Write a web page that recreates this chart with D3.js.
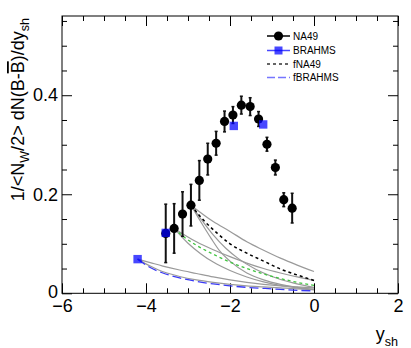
<!DOCTYPE html>
<html><head><meta charset="utf-8">
<script src="https://cdn.jsdelivr.net/npm/d3@7"></script>
<style>body{margin:0;background:#fff} svg{display:block;font-family:"Liberation Sans",Arial,sans-serif}</style>
</head><body><svg id="c" width="411" height="348"></svg>
<script>
// ---- data ----
const na49X   = [-3.53,-3.33,-3.13,-2.93,-2.73,-2.53,-2.33,-2.13,-1.93,-1.73,-1.52,-1.32,-1.12,-0.92,-0.72,-0.52];
const na49Y   = [0.121,0.131,0.160,0.178,0.228,0.271,0.303,0.347,0.360,0.380,0.377,0.352,0.301,0.254,0.189,0.172];
const na49Err = [0.059,0.050,0.045,0.042,0.040,0.032,0.024,0.021,0.017,0.018,0.018,0.015,0.014,0.015,0.014,0.030];
const brahmsX = [-4.20,-3.53,-1.91,-1.21];
const brahmsY = [0.069,0.122,0.338,0.341];

const fNA49      = [[-2.93,0.178],[-2.6,0.145],[-2.3,0.121],[-2.0,0.100],[-1.6,0.081],[-1.2,0.065],[-0.8,0.049],[-0.4,0.037],[0,0.026]];
const fNA49Hi    = [[-2.93,0.178],[-2.4,0.145],[-2.0,0.125],[-1.6,0.104],[-1.2,0.087],[-0.8,0.071],[-0.4,0.057],[0,0.044]];
const fNA49Lo1   = [[-2.93,0.178],[-2.7,0.145],[-2.45,0.111],[-2.24,0.085],[-2.0,0.065],[-1.6,0.041],[-1.2,0.027],[-0.8,0.018],[-0.4,0.012],[0,0.008]];
const fNA49Lo2   = [[-2.93,0.178],[-2.7,0.151],[-2.4,0.118],[-2.1,0.091],[-1.8,0.070],[-1.4,0.049],[-1.0,0.034],[-0.5,0.021],[0,0.012]];
const fNA49b     = [[-3.33,0.131],[-3.1,0.114],[-2.8,0.097],[-2.4,0.079],[-2.0,0.063],[-1.6,0.050],[-1.2,0.039],[-0.8,0.030],[-0.4,0.022],[0,0.016]];
const fNA49bHi   = [[-3.33,0.131],[-2.8,0.104],[-2.4,0.088],[-2.0,0.074],[-1.6,0.061],[-1.2,0.050],[-0.8,0.041],[-0.4,0.033],[0,0.026]];
const fNA49bLo   = [[-3.33,0.131],[-3.0,0.101],[-2.7,0.080],[-2.4,0.063],[-2.0,0.046],[-1.6,0.033],[-1.2,0.023],[-0.8,0.016],[-0.4,0.011],[0,0.007]];
const fBRAHMS    = [[-4.2,0.069],[-3.9,0.052],[-3.6,0.041],[-3.2,0.031],[-2.8,0.024],[-2.4,0.019],[-2.0,0.015],[-1.6,0.012],[-1.2,0.010],[-0.8,0.008],[-0.4,0.006],[0,0.005]];
const fBRAHMSHi  = [[-4.2,0.069],[-3.9,0.062],[-3.6,0.055],[-3.2,0.047],[-2.8,0.040],[-2.4,0.033],[-2.0,0.027],[-1.6,0.022],[-1.2,0.018],[-0.8,0.015],[-0.4,0.013],[0,0.011]];
const fBRAHMSLo  = [[-4.2,0.069],[-3.9,0.055],[-3.7,0.047],[-3.2,0.034],[-2.8,0.027],[-2.4,0.022],[-2.0,0.018],[-1.6,0.015],[-1.2,0.013],[-0.8,0.011],[-0.4,0.009],[0,0.008]];

const xMajor = [-6,-4,-2,0,2];
const xMinor = [-5.5,-5,-4.5,-3.5,-3,-2.5,-1.5,-1,-0.5,0.5,1,1.5];
const yMajor = [0,0.2,0.4];
const yMinor = [0.05,0.1,0.15,0.25,0.3,0.35,0.45,0.5,0.55];
const legendLabels = ["NA49","BRAHMS","fNA49","fBRAHMS"];

// ---- layout ----
const L=62, R=398, T=16, B=293.3;
const x = d3.scaleLinear().domain([-6,2]).range([L,R]);
const y = d3.scaleLinear().domain([0,0.56]).range([B,T]);
const svg = d3.select("#c");
const blue = "rgba(0,0,255,0.72)";

// axes
function ax(gen, tr, vals, size, fmt){
  const g = svg.append("g").attr("transform",tr)
    .call(gen.tickValues(vals).tickSize(size).tickSizeOuter(0).tickPadding(5).tickFormat(fmt));
  g.select(".domain").remove();
  g.selectAll("line").attr("stroke","#000").attr("stroke-width",1);
  g.selectAll("text").attr("font-size",18).attr("fill","#000").attr("font-family","Liberation Sans, Arial, sans-serif");
  return g;
}
const none = ()=>"";
const gx = ax(d3.axisBottom(x), `translate(0,${B})`, xMajor, -10, d=> d<0 ? "\u2212"+Math.abs(d) : d);
gx.selectAll("text").attr("dy","0.78em").attr("y",5);
ax(d3.axisBottom(x), `translate(0,${B})`, xMinor, -5, none);
ax(d3.axisTop(x), `translate(0,${T})`, xMajor, -10, none);
ax(d3.axisTop(x), `translate(0,${T})`, xMinor, -5, none);
const gy = ax(d3.axisLeft(y), `translate(${L},0)`, yMajor, -10, d=> d===0?"0":d.toFixed(1));
gy.selectAll("text").attr("x",-4).attr("y",d=> d===0 ? -1.5 : 0);
ax(d3.axisLeft(y), `translate(${L},0)`, yMinor, -5, none);
ax(d3.axisRight(y), `translate(${R},0)`, yMajor, -10, none);
ax(d3.axisRight(y), `translate(${R},0)`, yMinor, -5, none);
svg.append("rect").attr("x",L).attr("y",T).attr("width",R-L).attr("height",B-T)
  .attr("fill","none").attr("stroke","#000").attr("stroke-width",1);

// curves
const line = d3.line().x(d=>x(d[0])).y(d=>y(d[1])).curve(d3.curveMonotoneX);
const grays = [fNA49Hi,fNA49Lo1,fNA49Lo2,fNA49bHi,fNA49bLo,fBRAHMSHi,fBRAHMSLo];
svg.append("g").selectAll("path").data(grays).join("path")
  .attr("d",line).attr("fill","none").attr("stroke","#9a9a9a").attr("stroke-width",1.2);
svg.append("path").attr("d",line(fNA49b)).attr("fill","none").attr("stroke","#3fc43f").attr("stroke-width",1.3).attr("stroke-dasharray","3,3");
svg.append("path").attr("d",line(fBRAHMS)).attr("fill","none").attr("stroke","#3a3af5").attr("stroke-width",1.3).attr("stroke-dasharray","9,4");
svg.append("path").attr("d",line(fNA49)).attr("fill","none").attr("stroke","#000").attr("stroke-width",1.5).attr("stroke-dasharray","3,3");

// NA49
const na = na49X.map((v,i)=>({x:v,y:na49Y[i],e:na49Err[i]}));
const eg = svg.append("g");
eg.selectAll("line.v").data(na).join("line").attr("x1",d=>x(d.x)).attr("x2",d=>x(d.x))
  .attr("y1",d=>y(d.y-d.e)).attr("y2",d=>y(d.y+d.e)).attr("stroke","#111").attr("stroke-width",2);
eg.selectAll("line.t").data(na).join("line").attr("x1",d=>x(d.x)-1.5).attr("x2",d=>x(d.x)+1.5)
  .attr("y1",d=>y(d.y+d.e)).attr("y2",d=>y(d.y+d.e)).attr("stroke","#111").attr("stroke-width",1.5);
eg.selectAll("line.b").data(na).join("line").attr("x1",d=>x(d.x)-1.5).attr("x2",d=>x(d.x)+1.5)
  .attr("y1",d=>y(d.y-d.e)).attr("y2",d=>y(d.y-d.e)).attr("stroke","#111").attr("stroke-width",1.5);
svg.append("g").selectAll("circle").data(na).join("circle")
  .attr("cx",d=>x(d.x)).attr("cy",d=>y(d.y)).attr("r",4.6).attr("fill","#000");

// BRAHMS
const br = brahmsX.map((v,i)=>({x:v,y:brahmsY[i]}));
svg.append("g").selectAll("rect").data(br).join("rect")
  .attr("x",d=>x(d.x)-4.2).attr("y",d=>y(d.y)-4.2).attr("width",8.4).attr("height",8.4).attr("fill",blue);

// legend
const lg = svg.append("g");
const ly = [36,50.5,64,77.5];
lg.append("line").attr("x1",267).attr("x2",290).attr("y1",ly[0]).attr("y2",ly[0]).attr("stroke","#000").attr("stroke-width",1.5);
lg.append("circle").attr("cx",278.5).attr("cy",ly[0]).attr("r",4.6).attr("fill","#000");
lg.append("line").attr("x1",267).attr("x2",290).attr("y1",ly[1]).attr("y2",ly[1]).attr("stroke",blue).attr("stroke-width",1.5);
lg.append("rect").attr("x",278.5-4).attr("y",ly[1]-4).attr("width",8).attr("height",8).attr("fill",blue);
lg.append("line").attr("x1",267).attr("x2",290).attr("y1",ly[2]).attr("y2",ly[2]).attr("stroke","#333").attr("stroke-width",1.3).attr("stroke-dasharray","3,3");
lg.append("line").attr("x1",267).attr("x2",290).attr("y1",ly[3]).attr("y2",ly[3]).attr("stroke","rgba(60,60,255,0.7)").attr("stroke-width",1.3).attr("stroke-dasharray","8,3");
lg.selectAll("text").data(legendLabels).join("text").attr("x",293).attr("y",(d,i)=>ly[i]+3.6)
  .attr("font-size",10).attr("fill","#000").text(d=>d);

// titles
const yt = svg.append("text").attr("transform","translate(24,18) rotate(-90)").attr("text-anchor","end")
  .attr("font-size",18).attr("fill","#000");
yt.append("tspan").text("1/<N");
yt.append("tspan").attr("font-size",12.6).attr("dy",5).text("W");
yt.append("tspan").attr("dy",-5).text("/2> dN(B-");
yt.append("tspan").attr("style","text-decoration:overline").text("B");
yt.append("tspan").text(")/dy");
yt.append("tspan").attr("font-size",12.6).attr("dy",5).text("sh");

const xt = svg.append("text").attr("x",398).attr("y",340).attr("text-anchor","end").attr("font-size",18).attr("fill","#000");
xt.append("tspan").text("y");
xt.append("tspan").attr("font-size",12.6).attr("dy",6).text("sh");
</script></body></html>
